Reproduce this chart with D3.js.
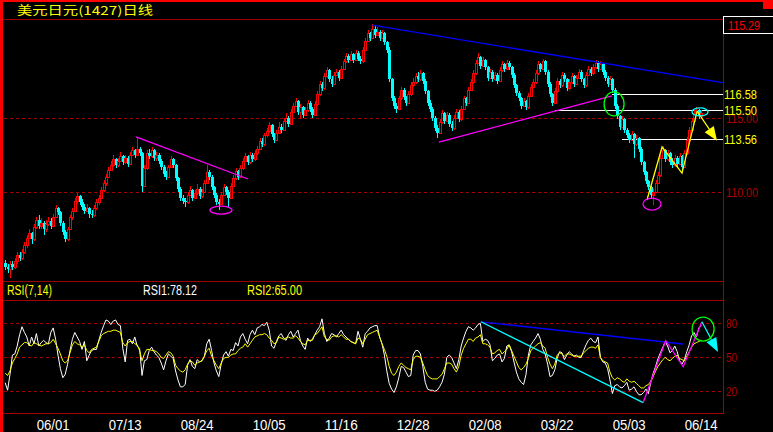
<!DOCTYPE html>
<html><head><meta charset="utf-8">
<script src="https://cdn.jsdelivr.net/npm/d3@7/dist/d3.min.js"></script>
<style>html,body{margin:0;padding:0;background:#000;overflow:hidden}</style>
</head><body>
<svg id="c" width="773" height="432"></svg>
<script>
// ---------- DATA ----------
const title = "美元日元(1427)日线";
const openP = [
105.2,104.9,104.8,105.1,104.9,105.3,105.7,105.5,105.9,106.4,
106.9,107.2,106.8,107.6,108.1,107.7,107.9,107.5,107.8,108.0,
107.7,108.3,108.9,108.6,107.9,107.3,106.8,107.5,108.3,108.7,
109.4,109.7,109.3,109.0,108.7,108.9,108.5,108.4,108.9,109.3,
109.6,110.1,110.6,111.0,111.5,111.8,112.2,111.8,112.1,112.4,
112.0,112.3,111.9,112.5,112.8,112.5,112.9,112.6,110.4,111.6,
112.6,112.4,112.8,112.3,112.5,112.1,111.7,111.2,111.0,111.7,
112.2,111.8,110.9,110.2,109.6,109.4,109.3,109.8,110.1,109.6,
109.9,110.2,109.7,110.0,110.6,111.3,111.0,110.3,109.8,109.3,
109.2,109.8,110.3,110.0,109.6,110.4,110.9,111.4,111.0,111.6,
112.1,112.4,112.0,112.5,112.2,112.6,112.9,113.4,113.2,113.8,
114.1,114.5,113.9,113.5,114.0,114.4,114.2,114.8,115.0,114.6,
115.4,115.8,116.1,115.4,115.7,115.2,115.5,116.0,115.6,115.2,
115.9,116.6,117.3,117.0,117.8,118.2,117.6,117.3,117.9,118.1,
117.7,118.3,118.8,119.2,118.9,119.3,118.9,119.4,119.0,118.8,
119.6,120.2,120.7,120.4,121.0,120.6,120.8,120.4,120.7,120.1,
119.6,117.6,116.3,115.8,115.6,116.3,116.9,116.4,116.0,116.6,
117.2,117.4,117.8,117.6,118.0,117.5,116.8,116.0,115.6,115.0,
114.3,114.0,114.7,115.3,114.8,115.2,114.6,114.3,115.0,115.4,
114.9,115.6,116.3,116.0,116.9,117.4,118.0,118.7,119.1,118.5,
118.9,118.4,117.7,118.1,117.6,117.9,117.5,118.2,118.6,118.3,
118.7,118.4,117.9,117.2,116.7,116.3,115.8,116.1,115.7,116.5,
117.1,117.4,118.0,118.6,118.3,118.8,118.1,117.3,116.6,116.0,
116.8,117.5,117.2,117.9,117.6,117.0,117.4,117.8,117.3,117.7,
118.1,117.6,117.2,117.9,118.3,118.0,118.4,118.7,118.3,118.6,
118.1,117.7,117.3,117.6,116.9,115.8,115.1,114.4,114.9,114.2,
113.8,113.5,113.9,113.2,113.6,112.9,112.0,111.3,110.7,110.3,
109.8,110.0,110.6,111.1,112.3,112.8,112.2,112.6,112.0,111.8,
112.3,111.9,112.4,111.7,112.6,113.5,114.2,114.8,115.3,115.5,
115.1];
const highP = [
105.4,105.1,105.3,105.3,105.5,105.9,105.9,106.1,106.6,107.1,
107.5,107.3,107.8,108.3,108.4,108.2,108.0,108.1,108.3,108.2,
108.5,109.1,109.0,108.7,108.0,107.4,107.6,108.4,108.9,109.6,
109.9,109.8,109.5,109.2,109.2,109.0,108.8,109.1,109.5,109.8,
110.3,110.8,111.2,111.7,112.1,112.5,112.3,112.3,112.7,112.5,
112.5,112.4,112.7,113.0,112.9,113.7,113.0,112.7,111.8,112.8,
112.9,113.0,112.9,112.7,112.6,112.2,111.8,111.4,111.8,112.4,
112.3,111.9,111.0,110.3,109.8,109.6,110.0,110.4,110.2,110.1,
110.5,110.3,110.2,110.8,111.8,111.5,111.1,110.4,109.9,109.5,
110.0,110.5,110.4,110.1,110.6,111.1,111.6,111.5,111.8,112.3,
112.6,112.5,112.7,112.6,112.8,113.1,113.6,113.6,114.0,114.3,
114.7,114.6,114.0,114.2,114.7,114.6,115.0,115.3,115.1,115.6,
116.0,116.3,116.2,115.9,115.8,115.7,116.2,116.1,115.7,116.1,
116.8,117.5,117.4,118.0,118.4,118.3,117.8,118.1,118.3,118.2,
118.5,119.0,119.4,119.3,119.5,119.4,119.6,119.5,119.2,119.8,
120.4,120.9,120.8,121.3,121.2,121.1,120.9,120.9,120.8,120.2,
119.8,117.7,116.5,116.0,116.5,117.1,117.0,116.5,116.8,117.4,
117.7,118.0,118.1,118.2,118.1,117.6,116.9,116.2,115.7,115.1,
114.5,114.9,115.5,115.4,115.4,115.3,114.8,115.2,115.6,115.5,
115.8,116.5,116.4,117.1,117.6,118.2,118.9,119.4,119.2,119.1,
119.0,118.5,118.3,118.2,118.1,118.0,118.4,118.8,118.7,118.9,
118.8,118.5,118.0,117.3,116.8,116.4,116.3,116.2,116.7,117.3,
117.6,118.2,118.8,118.7,119.0,118.9,118.2,117.4,116.7,117.0,
117.7,117.6,118.1,118.0,117.7,117.6,118.0,117.9,117.9,118.3,
118.2,117.7,118.1,118.5,118.4,118.6,118.9,118.8,118.8,118.7,
118.2,117.8,117.8,117.7,117.0,115.9,115.2,115.1,115.0,114.3,
114.0,114.1,114.0,113.8,113.7,113.0,112.1,111.4,110.8,110.4,
110.2,110.8,111.3,112.5,113.1,112.9,112.8,112.7,112.3,112.5,
112.4,112.6,112.5,112.8,113.7,114.4,115.0,115.5,115.7,115.6,
115.5];
const lowP = [
104.7,104.5,104.2,104.7,104.8,105.1,105.3,105.4,105.8,106.2,
106.8,106.5,106.7,107.5,107.5,107.5,107.1,107.3,107.7,107.5,
107.6,108.2,108.4,107.7,107.1,106.6,106.7,107.4,108.1,108.6,
109.2,109.1,108.8,108.5,108.6,108.2,108.2,108.3,108.8,109.1,
109.5,110.0,110.4,110.9,111.4,111.7,111.6,111.7,112.0,111.8,
111.9,111.7,111.8,112.4,112.3,112.4,112.4,110.0,110.3,111.5,
112.2,112.3,112.1,112.1,111.9,111.5,111.0,110.8,110.9,111.6,
111.6,110.7,110.0,109.4,109.2,109.0,109.2,109.7,109.4,109.5,
109.8,109.5,109.6,109.9,110.5,110.8,110.1,109.6,109.1,108.8,
109.1,109.7,109.8,108.9,109.5,110.3,110.8,110.8,110.9,111.5,
112.0,111.8,111.9,112.0,112.1,112.5,112.8,113.0,113.1,113.7,
114.0,113.7,113.3,113.4,113.9,114.0,114.1,114.7,114.4,114.5,
115.3,115.7,115.2,114.9,115.0,115.1,115.4,115.4,115.0,115.1,
115.8,116.5,116.8,116.9,117.7,117.4,117.1,117.2,117.8,117.5,
117.6,118.2,118.7,118.7,118.8,118.7,118.8,118.8,118.6,118.7,
119.5,120.1,120.2,120.3,120.4,120.5,120.2,120.3,119.9,119.4,
117.4,116.1,115.6,115.3,115.5,116.2,116.2,115.8,115.9,116.5,
117.1,117.3,117.4,117.5,117.3,116.6,115.8,115.4,114.8,114.1,
113.6,113.9,114.6,114.6,114.7,114.4,114.1,114.2,114.9,114.7,
114.8,115.5,115.8,115.9,116.8,117.3,117.9,118.6,118.3,118.4,
118.2,117.5,117.6,117.4,117.5,117.3,117.4,118.1,118.1,118.2,
118.2,117.7,117.0,116.5,116.1,115.6,115.7,115.5,115.6,116.4,
117.0,117.3,117.9,118.1,118.2,117.9,117.1,116.4,115.8,115.9,
116.7,117.0,117.1,117.4,116.8,116.9,117.3,117.1,117.2,117.6,
117.4,117.0,117.1,117.8,117.8,117.9,118.3,118.1,118.2,117.9,
117.5,117.1,117.2,116.7,115.6,114.9,114.2,114.3,114.0,113.6,
113.3,113.4,112.3,113.1,112.7,111.8,111.1,110.5,110.1,109.5,
109.1,109.9,110.5,111.0,112.2,112.0,112.1,111.8,111.6,111.7,
111.7,111.8,111.3,111.6,112.5,113.4,114.1,114.7,115.1,114.9,
114.9];
const closeP = [
104.9,104.8,105.1,104.9,105.3,105.7,105.5,105.9,106.4,106.9,
107.2,106.8,107.6,108.1,107.7,107.9,107.5,107.8,108.0,107.7,
108.3,108.9,108.6,107.9,107.3,106.8,107.5,108.3,108.7,109.4,
109.7,109.3,109.0,108.7,108.9,108.5,108.4,108.9,109.3,109.6,
110.1,110.6,111.0,111.5,111.8,112.2,111.8,112.1,112.4,112.0,
112.3,111.9,112.5,112.8,112.5,112.9,112.6,110.4,111.6,112.6,
112.4,112.8,112.3,112.5,112.1,111.7,111.2,111.0,111.7,112.2,
111.8,110.9,110.2,109.6,109.4,109.3,109.8,110.1,109.6,109.9,
110.2,109.7,110.0,110.6,111.3,111.0,110.3,109.8,109.3,109.2,
109.8,110.3,110.0,109.6,110.4,110.9,111.4,111.0,111.6,112.1,
112.4,112.0,112.5,112.2,112.6,112.9,113.4,113.2,113.8,114.1,
114.5,113.9,113.5,114.0,114.4,114.2,114.8,115.0,114.6,115.4,
115.8,116.1,115.4,115.7,115.2,115.5,116.0,115.6,115.2,115.9,
116.6,117.3,117.0,117.8,118.2,117.6,117.3,117.9,118.1,117.7,
118.3,118.8,119.2,118.9,119.3,118.9,119.4,119.0,118.8,119.6,
120.2,120.7,120.4,121.0,120.6,120.8,120.4,120.7,120.1,119.6,
117.6,116.3,115.8,115.6,116.3,116.9,116.4,116.0,116.6,117.2,
117.4,117.8,117.6,118.0,117.5,116.8,116.0,115.6,115.0,114.3,
114.0,114.7,115.3,114.8,115.2,114.6,114.3,115.0,115.4,114.9,
115.6,116.3,116.0,116.9,117.4,118.0,118.7,119.1,118.5,118.9,
118.4,117.7,118.1,117.6,117.9,117.5,118.2,118.6,118.3,118.7,
118.4,117.9,117.2,116.7,116.3,115.8,116.1,115.7,116.5,117.1,
117.4,118.0,118.6,118.3,118.8,118.1,117.3,116.6,116.0,116.8,
117.5,117.2,117.9,117.6,117.0,117.4,117.8,117.3,117.7,118.1,
117.6,117.2,117.9,118.3,118.0,118.4,118.7,118.3,118.6,118.1,
117.7,117.3,117.6,116.9,115.8,115.1,114.4,114.9,114.2,113.8,
113.5,113.9,113.2,113.6,112.9,112.0,111.3,110.7,110.3,109.8,
110.0,110.6,111.1,112.3,112.8,112.2,112.6,112.0,111.8,112.3,
111.9,112.4,111.7,112.6,113.5,114.2,114.8,115.3,115.5,115.1,
115.29];
const rsi1 = [
27.6,21,35,52,53,60,70,77,72,68,
60,68,62,71,60,63,65,63,62,72,
76,66,52,40,32,35,44,56,66,72,
68,64,57,64,47,52,56,57,57,65,
72,78,83,82,79,82,83,79,78,58,
46,65,66,62,68,60,58,34,47,48,
56,59,55,52,50,45,39,47,53,51,
49,38,30,24,24,26,43,48,42,40,
48,46,47,51,62,66,56,45,38,33,
44,52,55,51,57,56,63,60,68,71,
66,62,70,74,70,76,77,79,78,81,
74,60,58,64,69,71,67,65,70,73,
68,71,74,65,60,57,67,64,66,70,
74,77,84,71,64,67,71,70,68,71,
74,70,68,66,64,63,62,73,66,59,
71,73,76,77,78,78,68,62,52,38,
27,22,19,24,32,42,41,37,33,34,
52,56,56,53,42,28,22,21,21,20,
21,24,28,35,50,52,50,45,40,48,
60,67,73,77,76,74,76,79,80,64,
66,65,61,47,49,52,53,46,49,60,
61,55,46,37,31,28,26,35,52,61,
64,67,71,66,57,53,44,33,34,39,
49,55,54,48,52,55,53,51,52,50,
50,56,61,65,67,64,63,68,50,46,
45,40,30,18,25,26,24,23,25,28,
21,22,24,20,17,17,19,22,18,28,
36,42,49,54,59,64,60,54,56,60,
55,47,44,48,55,61,69,72,68,76,
78.12];
const rsi2 = [
36,34,38,45,49,53,59,61,63,63,
61,60,63,62,61,60,61,62,62,63,
66,62,58,53,47,45,47,54,61,64,
62,61,59,61,56,54,57,58,59,64,
69,71,72,73,73,74,74,73,72,63,
60,63,64,64,62,61,56,47,53,57,
57,56,56,55,53,50,49,52,55,54,
51,43,40,38,37,39,44,47,46,43,
45,46,47,51,56,58,51,47,43,40,
45,49,50,50,52,53,53,56,58,59,
62,59,62,65,68,69,70,70,71,70,
67,65,62,63,68,67,66,67,68,67,
67,69,67,64,62,61,65,65,65,70,
71,74,77,68,66,65,68,69,69,68,
70,68,66,66,64,63,62,67,66,62,
66,70,71,72,73,74,68,62,57,51,
42,36,34,37,42,45,43,41,40,39,
48,51,51,50,45,39,34,32,31,31,
31,33,35,40,45,45,44,40,37,42,
52,58,62,66,66,64,67,68,70,62,
62,61,59,53,54,56,57,53,55,57,
61,56,51,46,41,39,41,44,49,56,
58,60,62,63,60,58,50,44,40,44,
52,54,53,51,53,53,52,51,51,51,
51,54,56,58,59,59,58,61,50,47,
46,45,37,32,30,32,31,29,28,31,
29,28,29,27,25,23,23,25,26,29,
33,38,42,45,48,50,48,47,49,51,
52,49,48,47,51,55,59,62,63,64,
65];
const dateLabels = ["06/01","07/13","08/24","10/05","11/16","12/28","02/08","03/22","05/03","06/14"];
const dateIdx = [20,50,80,110,140,170,200,230,260,290];
const priceGrid = [115, 110];
const rsiGrid = [80, 50, 20];
const keyLevels = [116.58, 115.50, 113.56];
const keyLevelFrom = [253, 229, 257];
const lastPrice = 115.29;
const rsiParams = "RSI(7,14)";
// hand-drawn annotations, in [bar index, value]
const mainBlue = [[153, 121.25], [299.5, 117.35]];
const mainMagA = [[54.5, 113.70], [101.2, 110.86]];
const mainMagB = [[180.7, 113.36], [252.8, 116.47]];
const mainZig = [[267.4, 109.44], [273.7, 113.02], [282, 111.26], [288.3, 115.45]];
const mainArrow = [[288.3, 115.45], [296.6, 113.45]];
const rsiBlue = [[198.2, 81.4], [282.4, 61.8]];
const rsiCyan = [[198.2, 81.4], [265.8, 10]];
const rsiZig = [[265.8, 10], [275.2, 64.7], [282.5, 41.7], [290.3, 81.5]];
const rsiArrow = [[290.3, 81.5], [297, 54.7]];

// ---------- DRAW ----------
const svg = d3.select("#c");
const FONT = "'Liberation Sans', Arial, sans-serif";
const FR = "#a00000";
const N = closeP.length;
const xs = d3.scaleLinear().domain([-0.5, 299.5]).range([4, 724]);
const y = d3.scaleLinear().domain([103.97, 121.67]).range([281, 19]);
const yr = d3.scaleLinear().domain([0, 100]).range([414, 300.7]);

svg.append("rect").attr("width", 773).attr("height", 432).attr("fill", "#000");

// frames
const fr = svg.append("g").attr("stroke", FR).attr("shape-rendering", "crispEdges");
[[3, 19.5, 723, 19.5], [3, 281.5, 723, 281.5], [3, 300.5, 723, 300.5], [3, 413.5, 723, 413.5], [723.5, 19, 723.5, 414]]
  .forEach(l => fr.append("line").attr("x1", l[0]).attr("y1", l[1]).attr("x2", l[2]).attr("y2", l[3]));

svg.append("rect").attr("x", 0).attr("y", 0).attr("width", 3).attr("height", 432).attr("fill", "#ff0000");
svg.append("rect").attr("x", 0).attr("y", 0).attr("width", 773).attr("height", 2).attr("fill", "#ff0000");
svg.append("rect").attr("x", 763).attr("y", 0).attr("width", 10).attr("height", 9).attr("fill", "#ff0000");

// title
svg.append("text").attr("x", 17).attr("y", 14.5).attr("fill", "#ffff00")
  .attr("font-family", "'Noto Sans CJK SC', sans-serif").attr("font-size", 12)
  .attr("textLength", 136).attr("lengthAdjust", "spacingAndGlyphs").text(title);

// grid lines
svg.append("g").selectAll("line").data(priceGrid).join("line")
  .attr("x1", 4).attr("x2", 723).attr("y1", d => Math.round(y(d)) + 0.5).attr("y2", d => Math.round(y(d)) + 0.5)
  .attr("stroke", FR).attr("stroke-dasharray", "3,3").attr("shape-rendering", "crispEdges");
svg.append("g").selectAll("line").data(rsiGrid).join("line")
  .attr("x1", 4).attr("x2", 723).attr("y1", d => Math.round(yr(d)) + 0.5).attr("y2", d => Math.round(yr(d)) + 0.5)
  .attr("stroke", FR).attr("stroke-dasharray", "3,3").attr("shape-rendering", "crispEdges");

// right axis labels
svg.append("g").selectAll("text").data(priceGrid).join("text")
  .attr("x", 726).attr("y", d => y(d) + 5).attr("fill", "#b00000").attr("font-family", FONT)
  .attr("font-size", 12).attr("textLength", 32).attr("lengthAdjust", "spacingAndGlyphs").text(d => d.toFixed(2));
svg.append("g").selectAll("text").data(rsiGrid).join("text")
  .attr("x", 726).attr("y", d => yr(d) + 5).attr("fill", "#b00000").attr("font-family", FONT)
  .attr("font-size", 13).attr("textLength", 11).attr("lengthAdjust", "spacingAndGlyphs").text(d => d);

// key levels (white lines + yellow labels)
const kl = svg.append("g");
keyLevels.forEach((p, k) => {
  kl.append("line").attr("x1", xs(keyLevelFrom[k])).attr("x2", 723)
    .attr("y1", Math.round(y(p)) + 0.5).attr("y2", Math.round(y(p)) + 0.5)
    .attr("stroke", "#fff").attr("stroke-width", 1).attr("shape-rendering", "crispEdges");
  kl.append("text").attr("x", 724).attr("y", y(p) + 4.5).attr("fill", "#ffff00").attr("font-family", FONT)
    .attr("font-size", 12).attr("textLength", 33).attr("lengthAdjust", "spacingAndGlyphs").text(p.toFixed(2));
});

// last price box
svg.append("rect").attr("x", 723.5).attr("y", 16.5).attr("width", 55).attr("height", 17)
  .attr("fill", "#000").attr("stroke", "#fff");
svg.append("text").attr("x", 728).attr("y", 30).attr("fill", "#ff0000").attr("font-family", FONT)
  .attr("font-size", 13).attr("textLength", 32).attr("lengthAdjust", "spacingAndGlyphs").text(lastPrice.toFixed(2));

// candles
const bars = d3.range(N).map(i => ({ i, o: openP[i], h: highP[i], l: lowP[i], c: closeP[i] }));
const cg = svg.append("g").attr("shape-rendering", "crispEdges");
const px = i => Math.round(xs(i));
bars.forEach(d => {
  const X = px(d.i);
  const up = d.c >= d.o;
  const col = up ? "#ff0000" : "#00ffff";
  const yt = Math.round(y(Math.max(d.o, d.c))), yb = Math.round(y(Math.min(d.o, d.c)));
  const yh = Math.round(y(d.h)), yl = Math.round(y(d.l));
  if (up) {
    cg.append("line").attr("x1", X + 0.5).attr("x2", X + 0.5).attr("y1", yh).attr("y2", yt).attr("stroke", col);
    cg.append("line").attr("x1", X + 0.5).attr("x2", X + 0.5).attr("y1", yb).attr("y2", yl).attr("stroke", col);
    cg.append("rect").attr("x", X - 1 + 0.5).attr("y", yt + 0.5).attr("width", 2).attr("height", Math.max(yb - yt, 0))
      .attr("fill", "none").attr("stroke", col);
  } else {
    cg.append("line").attr("x1", X + 0.5).attr("x2", X + 0.5).attr("y1", yh).attr("y2", yl).attr("stroke", col);
    cg.append("rect").attr("x", X - 1).attr("y", yt).attr("width", 3).attr("height", Math.max(yb - yt, 1)).attr("fill", col);
  }
});

// helpers
const lineMain = d3.line().x(d => xs(d[0])).y(d => y(d[1]));
const lineRsi = d3.line().x(d => xs(d[0])).y(d => yr(d[1]));
function path(pts, gen, color) {
  svg.append("path").attr("d", gen(pts)).attr("fill", "none").attr("stroke", color).attr("stroke-width", 1.3);
}
function arrow(pts, gen, color) {
  const a = [xs(pts[0][0]), gen === lineMain ? y(pts[0][1]) : yr(pts[0][1])];
  const b = [xs(pts[1][0]), gen === lineMain ? y(pts[1][1]) : yr(pts[1][1])];
  const dx = b[0] - a[0], dy = b[1] - a[1], L = Math.hypot(dx, dy), ux = dx / L, uy = dy / L;
  const hl = 14, hw = 5.5;
  const bx = b[0] - ux * hl, by = b[1] - uy * hl;
  svg.append("line").attr("x1", a[0]).attr("y1", a[1]).attr("x2", bx).attr("y2", by).attr("stroke", color).attr("stroke-width", 1.2);
  svg.append("path").attr("d", `M${b[0]},${b[1]}L${bx - uy * hw},${by + ux * hw}L${bx + uy * hw},${by - ux * hw}Z`).attr("fill", color);
}
function ell(i, v, scaleY, rx, ry, color) {
  svg.append("ellipse").attr("cx", xs(i)).attr("cy", scaleY(v)).attr("rx", rx).attr("ry", ry)
    .attr("fill", "none").attr("stroke", color).attr("stroke-width", 1.3);
}

// main annotations
path(mainBlue, lineMain, "#0000ff");
path(mainMagA, lineMain, "#ff00ff");
path(mainMagB, lineMain, "#ff00ff");
path(mainZig, lineMain, "#ffff00");
arrow(mainArrow, lineMain, "#ffff00");
ell(89.9, 108.76, y, 11, 4, "#ff00ff");
ell(269.5, 109.17, y, 9, 6, "#ff00ff");
ell(253.7, 115.93, y, 10, 12, "#00ff00");
ell(289.5, 115.39, y, 8, 4, "#00ffff");

// RSI header
const hdr = svg.append("g").attr("font-family", FONT).attr("font-size", 14);
hdr.append("text").attr("x", 7).attr("y", 295).attr("fill", "#ffff00").attr("textLength", 45).attr("lengthAdjust", "spacingAndGlyphs").text(rsiParams);
hdr.append("text").attr("x", 143).attr("y", 295).attr("fill", "#ffffff").attr("textLength", 54).attr("lengthAdjust", "spacingAndGlyphs").text("RSI1:" + rsi1[N - 1].toFixed(2));
hdr.append("text").attr("x", 247).attr("y", 295).attr("fill", "#ffff00").attr("textLength", 55).attr("lengthAdjust", "spacingAndGlyphs").text("RSI2:" + rsi2[N - 1].toFixed(2));

// RSI lines
const rl = d3.line().x((v, i) => xs(i)).y(v => yr(v));
svg.append("path").attr("d", rl(rsi1)).attr("fill", "none").attr("stroke", "#ffffff").attr("stroke-width", 1);
svg.append("path").attr("d", rl(rsi2)).attr("fill", "none").attr("stroke", "#ffff00").attr("stroke-width", 1);

// RSI annotations
path(rsiBlue, lineRsi, "#0000ff");
path(rsiCyan, lineRsi, "#00ffff");
path(rsiZig, lineRsi, "#ff00ff");
arrow(rsiArrow, lineRsi, "#00ffff");
ell(290.8, 75, yr, 11, 12, "#00ff00");

// date axis
svg.append("g").selectAll("text").data(dateLabels).join("text")
  .attr("x", (d, k) => xs(dateIdx[k])).attr("y", 430).attr("text-anchor", "middle")
  .attr("fill", "#ffffff").attr("font-family", FONT).attr("font-size", 14)
  .attr("textLength", 33).attr("lengthAdjust", "spacingAndGlyphs").text(d => d);
</script>
</body></html>
